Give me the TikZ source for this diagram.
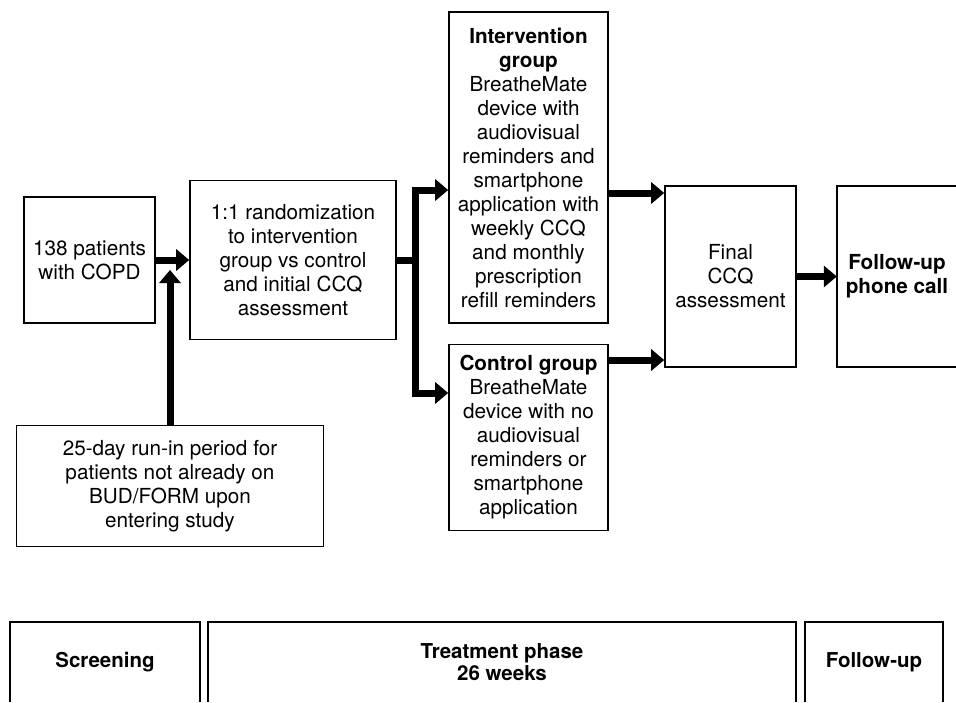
\documentclass[tikz,border=0pt]{standalone}
\usepackage{fontspec}
\setmainfont{TeX Gyre Heros}
\usepackage{tikz}
\usetikzlibrary{arrows.meta, positioning}

\begin{document}
\begin{tikzpicture}[x=1pt, y=-1pt,
    box/.style={draw, rectangle, line width=1.6pt, align=center, inner sep=2pt},
    phase/.style={rectangle, align=center, inner sep=0pt, font=\fontsize{20.5}{22.5}\selectfont\bfseries},
    flow/.style={line width=7pt},
    flowarrow/.style={flow, -{Triangle[length=13pt, width=21pt]}},
    every node/.style={font=\fontsize{20.7}{24}\selectfont}]
    \useasboundingbox (0,0) rectangle (956,702);

    % Nodes
    \node[box, minimum width=131pt, minimum height=126pt] (patients) at (89.5,260) {138 patients\\with COPD};
    \node[box, minimum width=206pt, minimum height=159pt] (rand) at (293,260) {1:1 randomization\\to intervention\\group vs control\\and initial CCQ\\assessment};
    \node[box, minimum width=159pt, minimum height=311pt] (interv) at (528.5,167.5) {\textbf{Intervention}\\\textbf{group}\\BreatheMate\\device with\\audiovisual\\reminders and\\smartphone\\application with\\weekly CCQ\\and monthly\\prescription\\refill reminders};
    \node[box, minimum width=159pt, minimum height=186pt] (control) at (528.5,437.5) {\textbf{Control group}\\BreatheMate\\device with no\\audiovisual\\reminders or\\smartphone\\application};
    \node[box, minimum width=131pt, minimum height=181pt] (final) at (730.5,276.5) {Final\\CCQ\\assessment};
    \node[rectangle, align=center, minimum width=120pt, minimum height=181pt] (phone) at (897,276.5) {\textbf{Follow-up}\\\textbf{phone call}};
    \draw[line width=1.6pt] (phone.north east) -- (phone.north west) -- (phone.south west) -- (phone.south east);
    \node[box, minimum width=307pt, minimum height=121pt] (runin) at (170,486) {25-day run-in period for\\patients not already on\\BUD/FORM upon\\entering study};

    % Phases
    \node[phase, minimum width=190pt, minimum height=80pt] (screen) at (105,662) {Screening};
    \node[phase, minimum width=588pt, minimum height=80pt] (treat) at (502,662) {Treatment phase\\26 weeks};
    \node[phase, minimum width=138pt, minimum height=80pt] (follow) at (874,662) {Follow-up};
    \foreach \p in {screen, treat, follow}
        \draw[line width=1.6pt] (\p.south west) -- (\p.north west) -- (\p.north east) -- (\p.south east);

    % Arrows
    \coordinate (join) at (170,270);
    \coordinate (split) at (415,260);
    \draw[flowarrow] (patients) -- (rand);
    \draw[flowarrow] (runin) -- (join);
    \draw[flow] (rand) -- (split);
    \draw[flowarrow] (split) |- (interv.west |- 0,190);
    \draw[flowarrow] (split) |- (control.west |- 0,393);
    \draw[flowarrow] (interv.east |- 0,193) -- (final.west |- 0,193);
    \draw[flowarrow] (control.east |- 0,360) -- (final.west |- 0,360);
    \draw[flowarrow] (final) -- (phone);
\end{tikzpicture}
\end{document}
